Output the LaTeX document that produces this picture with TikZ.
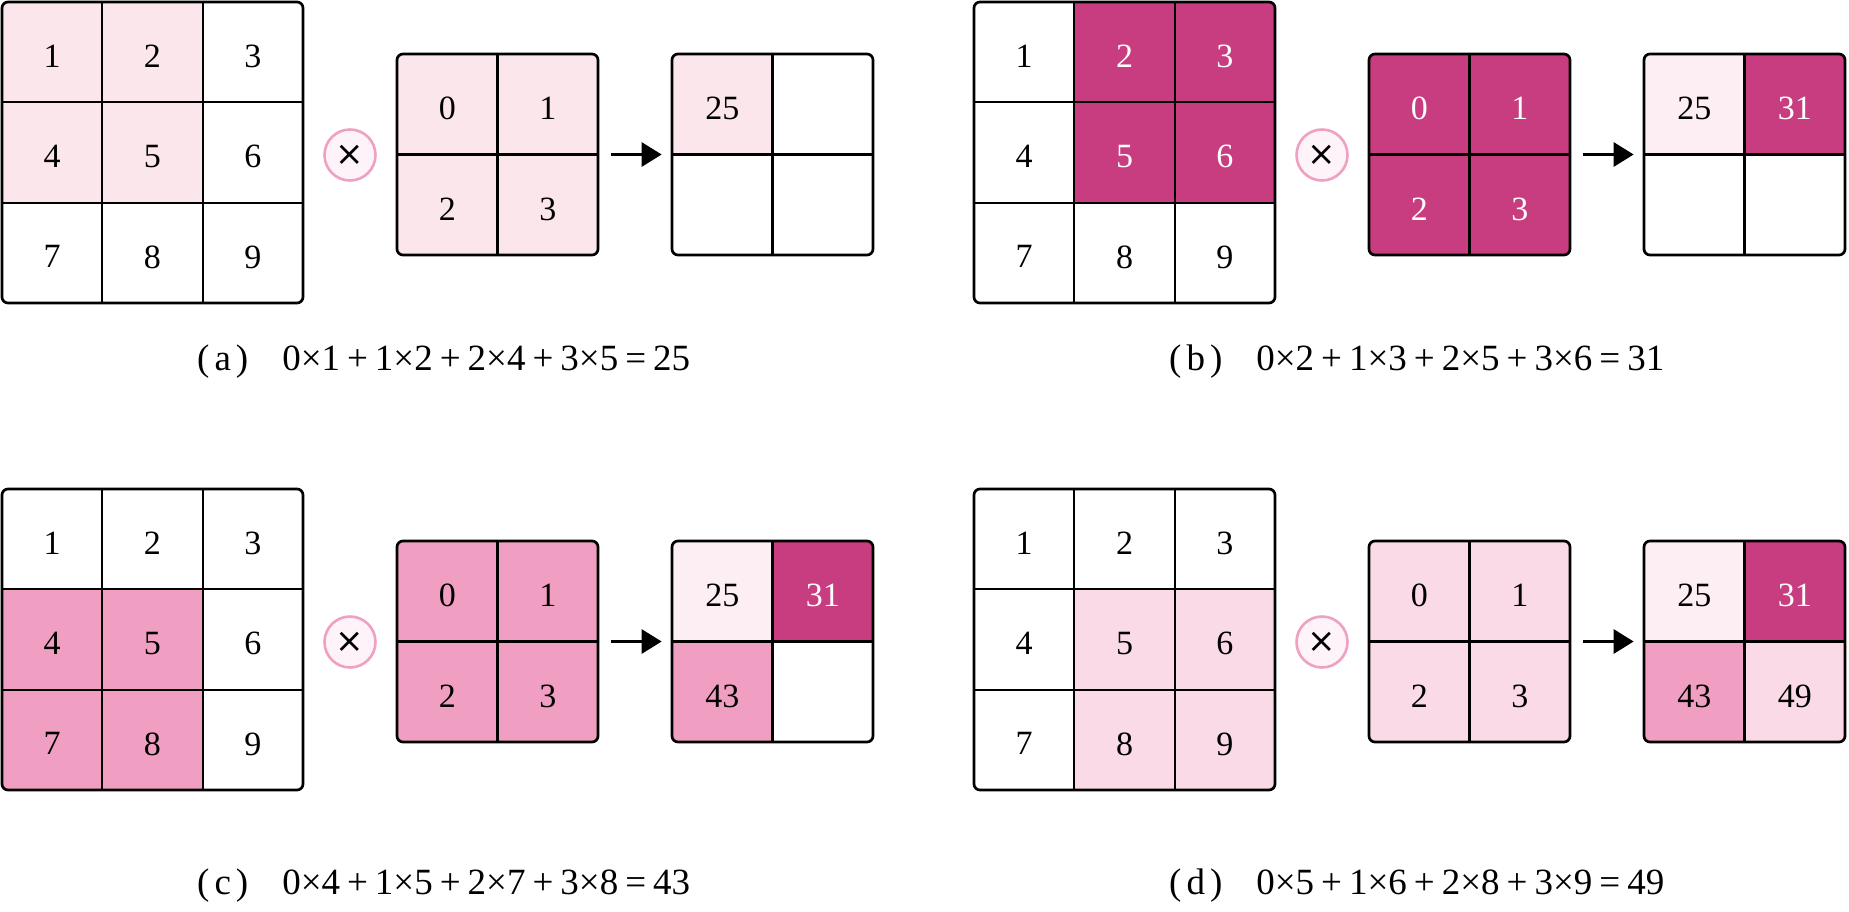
\documentclass[tikz,border=0pt]{standalone}
\usepackage{fontspec}
\setmainfont{Liberation Serif}
\newfontfamily\symfont{DejaVu Sans}
\usetikzlibrary{arrows.meta}
\definecolor{pa}{HTML}{FAE6EB}
\definecolor{pb}{HTML}{C83D7F}
\definecolor{pc}{HTML}{F09EC2}
\definecolor{pd}{HTML}{F9DAE6}
\definecolor{pe}{HTML}{FDEEF3}
\definecolor{cring}{HTML}{F0A0C2}
\definecolor{cfill}{HTML}{FDF3F8}
\tikzset{
  cellbox/.style={draw=black, line width=2.1pt, minimum width=#1, minimum height=#1,
    inner sep=0pt, font=\fontsize{34}{40}\selectfont},
  frame/.style={draw=black, line width=2.7pt, rounded corners=6pt, inner sep=0pt},
  opcircle/.style={circle, draw=cring, fill=cfill, line width=2.6pt, minimum size=51pt,
    inner sep=0pt, font=\symfont\fontsize{34}{34}\selectfont},
  flow/.style={-{Triangle[length=20pt,width=24pt]}, line width=3pt},
  caption/.style={font=\fontsize{37}{40}\selectfont, anchor=base west, inner sep=0pt}
}
\newcommand\mkgrid[6]{%
  \pgfmathsetmacro\gw{#4*#5}%
  \begin{scope}
    \clip[rounded corners=6pt] (#2,#3) rectangle ++(\gw,\gw);
    \foreach \i/\j/\f/\t/\l in {#6} {
      \node[cellbox=#5pt, fill=\f, text=\t] (#1-\i\j) at ({#2+(\i-0.5)*#5},{#3+(\j-0.5)*#5}) {\raisebox{-4pt}[\height][0pt]{\l}};
    }
  \end{scope}
  \node[frame, minimum width=\gw pt, minimum height=\gw pt] (#1) at ({#2+\gw/2},{#3+\gw/2}) {};
}
\newcommand\opr[1]{\kern7pt#1\kern7pt}
\newcommand\tag[1]{(\kern5pt #1\kern5pt)\hspace{34pt}}
\begin{document}
\begin{tikzpicture}[x=1pt,y=-1pt]
\useasboundingbox (0,0) rectangle (1849,911);
% ---------- (a)
\mkgrid{a-big}{2}{2}{3}{100.33}{1/1/pa/black/1, 2/1/pa/black/2, 3/1/white/black/3,
  1/2/pa/black/4, 2/2/pa/black/5, 3/2/white/black/6,
  1/3/white/black/7, 2/3/white/black/8, 3/3/white/black/9}
\node[opcircle] (a-op) at (350,155) {×};
\mkgrid{a-kern}{397}{54}{2}{100.5}{1/1/pa/black/0, 2/1/pa/black/1, 1/2/pa/black/2, 2/2/pa/black/3}
\mkgrid{a-out}{672}{54}{2}{100.5}{1/1/pa/black/25, 2/1/white/black/{}, 1/2/white/black/{}, 2/2/white/black/{}}
\draw[flow, shorten <=12pt, shorten >=9pt] (a-kern) -- (a-out);
\node[caption] (a-cap) at (197,370) {\tag{a}0×1\opr{+}1×2\opr{+}2×4\opr{+}3×5\opr{=}25};
% ---------- (b)
\mkgrid{b-big}{974}{2}{3}{100.33}{1/1/white/black/1, 2/1/pb/white/2, 3/1/pb/white/3,
  1/2/white/black/4, 2/2/pb/white/5, 3/2/pb/white/6,
  1/3/white/black/7, 2/3/white/black/8, 3/3/white/black/9}
\node[opcircle] (b-op) at (1322,155) {×};
\mkgrid{b-kern}{1369}{54}{2}{100.5}{1/1/pb/white/0, 2/1/pb/white/1, 1/2/pb/white/2, 2/2/pb/white/3}
\mkgrid{b-out}{1644}{54}{2}{100.5}{1/1/pe/black/25, 2/1/pb/white/31, 1/2/white/black/{}, 2/2/white/black/{}}
\draw[flow, shorten <=12pt, shorten >=9pt] (b-kern) -- (b-out);
\node[caption] (b-cap) at (1169,370) {\tag{b}0×2\opr{+}1×3\opr{+}2×5\opr{+}3×6\opr{=}31};
% ---------- (c)
\mkgrid{c-big}{2}{489}{3}{100.33}{1/1/white/black/1, 2/1/white/black/2, 3/1/white/black/3,
  1/2/pc/black/4, 2/2/pc/black/5, 3/2/white/black/6,
  1/3/pc/black/7, 2/3/pc/black/8, 3/3/white/black/9}
\node[opcircle] (c-op) at (350,642) {×};
\mkgrid{c-kern}{397}{541}{2}{100.5}{1/1/pc/black/0, 2/1/pc/black/1, 1/2/pc/black/2, 2/2/pc/black/3}
\mkgrid{c-out}{672}{541}{2}{100.5}{1/1/pe/black/25, 2/1/pb/white/31, 1/2/pc/black/43, 2/2/white/black/{}}
\draw[flow, shorten <=12pt, shorten >=9pt] (c-kern) -- (c-out);
\node[caption] (c-cap) at (197,894) {\tag{c}0×4\opr{+}1×5\opr{+}2×7\opr{+}3×8\opr{=}43};
% ---------- (d)
\mkgrid{d-big}{974}{489}{3}{100.33}{1/1/white/black/1, 2/1/white/black/2, 3/1/white/black/3,
  1/2/white/black/4, 2/2/pd/black/5, 3/2/pd/black/6,
  1/3/white/black/7, 2/3/pd/black/8, 3/3/pd/black/9}
\node[opcircle] (d-op) at (1322,642) {×};
\mkgrid{d-kern}{1369}{541}{2}{100.5}{1/1/pd/black/0, 2/1/pd/black/1, 1/2/pd/black/2, 2/2/pd/black/3}
\mkgrid{d-out}{1644}{541}{2}{100.5}{1/1/pe/black/25, 2/1/pb/white/31, 1/2/pc/black/43, 2/2/pd/black/49}
\draw[flow, shorten <=12pt, shorten >=9pt] (d-kern) -- (d-out);
\node[caption] (d-cap) at (1169,894) {\tag{d}0×5\opr{+}1×6\opr{+}2×8\opr{+}3×9\opr{=}49};
\end{tikzpicture}
\end{document}
